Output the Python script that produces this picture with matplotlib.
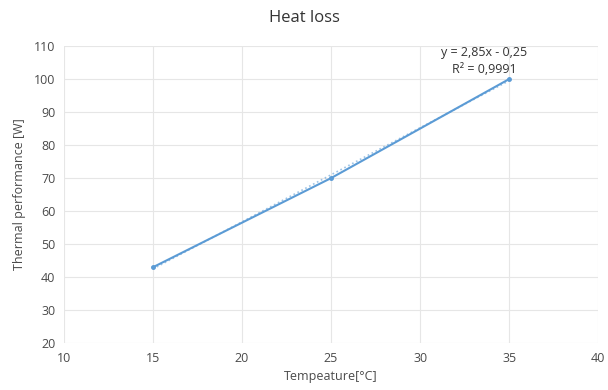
import matplotlib
matplotlib.use("Agg")
import matplotlib.pyplot as plt
import numpy as np

plt.rcParams['font.family'] = ['Open Sans', 'DejaVu Sans']

# data
temp = [15, 25, 35]
heat = [43, 70, 100]
slope = 2.85
intercept = -0.25
r2_text = "R² = 0,9991"
eq_text = "y = 2,85x - 0,25"

blue = '#5b9bd5'
grey = '#4a4a4a'

fig = plt.figure(figsize=(6.08, 3.9), dpi=100)
ax = fig.add_axes([0.105, 0.12, 0.879, 0.762])

ax.plot(temp, heat, color=blue, lw=1.5, marker='o', ms=2.5, zorder=3)
tx = np.array([temp[0], temp[-1]])
ax.plot(tx, slope * tx + intercept, color=blue, lw=1.2, ls=':', alpha=0.6, zorder=2)

ax.set_xlim(10, 40)
ax.set_ylim(20, 110)
ax.set_xticks(range(10, 41, 5))
ax.set_yticks(range(20, 111, 10))
ax.grid(True, color='#e6e6e6', lw=0.8)
ax.set_axisbelow(True)
for s in ax.spines.values():
    s.set_visible(False)
ax.tick_params(length=0, labelsize=9, colors=grey, pad=6)

ax.set_xlabel('Tempeature[°C]', fontsize=9, color=grey, labelpad=4)
ax.set_ylabel('Thermal performance [W]', fontsize=9, color=grey, labelpad=6)
fig.suptitle('Heat loss', fontsize=12, color='#333333', y=0.975)

ax.text(33.6, 105.5, eq_text + "\n" + r2_text, fontsize=9, color='#333333',
        ha='center', va='center', linespacing=1.4)

fig.savefig('out.png', dpi=100)
